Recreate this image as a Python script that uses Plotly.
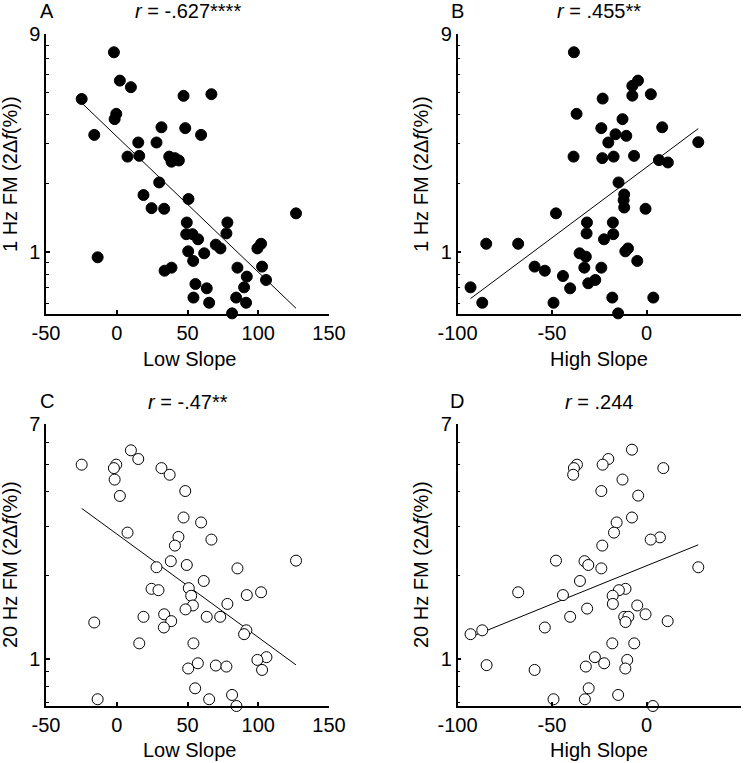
import numpy as np
import plotly.graph_objects as go

# ---------------- data ----------------
# Panel A: Low slope vs 1 Hz FM
a_x = [36.8, -2.0, 2.2, 10.0, -24.8, 47.2, 66.9, -0.35, -1.5, 31.6, 48.4, -15.9, 59.6, 15.2, 28.1,
       7.6, 15.9, 37.1, 38.7, 41.1, 43.9, 30.0, 18.9, 50.7, 24.6, 33.5, 126.7, 49.5, 78.2, 77.5,
       49.1, 53.5, 57.5, 70.0, 73.3, 102.0, 99.4, 50.5, 61.8, -13.5, 54.0, 33.8, 38.7, 85.3, 102.7,
       91.9, 105.5, 55.6, 63.6, 90.0, 54.2, 84.4, 65.3, 91.4, 81.5]
a_y = [9.17, 7.49, 5.63, 5.27, 4.68, 4.83, 4.91, 4.03, 3.82, 3.52, 3.49, 3.26, 3.26, 3.02, 3.02,
       2.62, 2.64, 2.62, 2.49, 2.58, 2.52, 2.02, 1.78, 1.71, 1.56, 1.55, 1.48, 1.35, 1.35, 1.21,
       1.20, 1.20, 1.14, 1.08, 1.04, 1.09, 1.04, 1.01, 0.99, 0.951, 0.917, 0.831, 0.857, 0.857, 0.866,
       0.783, 0.757, 0.727, 0.696, 0.703, 0.634, 0.634, 0.602, 0.602, 0.541]

# Panel B: High slope vs 1 Hz FM
b_x = [2.5, -38.4, -4.5, -7.5, -7.5, -23.2, 2.3, -37.0, -12.7, -23.9, 8.3, -16.4, -10.7, -20.2, 27.4,
       -38.6, -23.4, -17.4, -6.6, 6.6, 11.3, -14.8, -11.8, -12.1, -11.8, -0.5, -47.9, -31.5, -17.8,
       -31.7, -17.6, -22.5, -84.8, -67.9, -9.8, -11.2, -35.4, -32.1, -4.9, -59.2, -53.8, -32.9, -23.9,
       -44.2, -27.1, -30.8, -40.4, -93.1, -86.9, -49.2, -18.1, 3.6, -15.0]
b_y = [9.17, 7.49, 5.63, 5.34, 4.84, 4.70, 4.91, 4.03, 3.82, 3.49, 3.52, 3.28, 3.23, 3.02, 3.03,
       2.62, 2.58, 2.62, 2.64, 2.53, 2.47, 2.02, 1.79, 1.69, 1.57, 1.55, 1.48, 1.35, 1.35,
       1.21, 1.20, 1.14, 1.09, 1.09, 1.04, 1.01, 0.99, 0.957, 0.917, 0.866, 0.831, 0.857, 0.857,
       0.788, 0.757, 0.732, 0.696, 0.703, 0.602, 0.602, 0.634, 0.634, 0.541]

# Panel C: Low slope vs 20 Hz FM
c_x = [36.8, 10.0, 15.2, -24.8, -0.35, -2.0, 31.6, 37.4, -1.5, 48.4, 2.2, 47.2, 59.6, 7.6, 43.6,
       66.9, 41.1, 38.2, 126.7, 49.5, 28.1, 85.3, 61.5, 24.6, 29.5, 50.9, 102.0, 52.6, 91.9, 78.2,
       53.8, 48.6, 18.9, 63.6, 73.1, 33.5, 38.5, -15.9, 33.3, 91.6, 90.0, 15.9, 54.2, 105.8, 99.4,
       57.3, 70.0, 77.5, 50.5, 102.7, 55.4, 81.5, -13.5, 65.3, 84.6]
c_y = [7.06, 5.63, 5.24, 5.00, 5.00, 4.86, 4.86, 4.60, 4.42, 4.02, 3.86, 3.23, 3.10, 2.85, 2.75,
       2.69, 2.56, 2.25, 2.26, 2.18, 2.14, 2.12, 1.91, 1.79, 1.77, 1.80, 1.74, 1.69, 1.70, 1.58,
       1.56, 1.51, 1.42, 1.42, 1.42, 1.45, 1.37, 1.355, 1.30, 1.27, 1.23, 1.14, 1.14, 1.017, 0.994,
       0.967, 0.949, 0.941, 0.926, 0.915, 0.786, 0.744, 0.718, 0.718, 0.679]

# Panel D: High slope vs 20 Hz FM
d_x = [3.4, -7.7, -20.2, -36.8, -23.2, -38.4, 8.9, -38.8, -12.7, -23.9, -4.4, -7.7, -15.8, -17.2, 7.1,
       2.2, -23.4, -47.9, -32.8, -30.8, 27.4, -23.9, -35.2, -67.9, -11.1, -14.6, -17.9, -44.2, -4.9,
       -17.8, -31.4, -0.5, -40.4, -11.8, -9.6, -11.1, 11.2, -53.8, -93.1, -86.9, -18.1, -6.5, -27.3,
       -10.2, -22.4, -84.6, -32.1, -11.2, -59.2, -30.6, -15.0, -49.2, -32.6, 3.4]
d_y = [7.06, 5.66, 5.24, 5.00, 5.00, 4.86, 4.86, 4.60, 4.42, 4.02, 3.87, 3.23, 3.10, 2.85, 2.74,
       2.69, 2.56, 2.26, 2.25, 2.18, 2.14, 2.12, 1.91, 1.74, 1.79, 1.77, 1.69, 1.70, 1.56,
       1.58, 1.52, 1.45, 1.42, 1.42, 1.42, 1.36, 1.37, 1.30, 1.23, 1.27, 1.14, 1.14, 1.017,
       0.994, 0.967, 0.952, 0.941, 0.926, 0.915, 0.786, 0.744, 0.718, 0.718, 0.679]

panel_letters = ["A", "B", "C", "D"]
panel_titles = ["<i>r</i> = -.627****", "<i>r</i> = .455**", "<i>r</i> = -.47**", "<i>r</i> = .244"]
x_titles = ["Low Slope", "High Slope", "Low Slope", "High Slope"]
y_titles = ["1 Hz FM (2Δ<i>f</i>(%))", "1 Hz FM (2Δ<i>f</i>(%))",
            "20 Hz FM (2Δ<i>f</i>(%))", "20 Hz FM (2Δ<i>f</i>(%))"]
low_ticks = [-50, 0, 50, 100, 150]
high_ticks = [-100, -50, 0, 50]
top_yticks = [1, 9]
bot_yticks = [1, 7]
top_minor = [0.6, 0.7, 0.8, 0.9, 2, 3, 4, 5, 6, 7, 8]
bot_minor = [0.7, 0.8, 0.9, 2, 3, 4, 5, 6]

W, H = 751, 763
FONT = "Arial, Liberation Sans, sans-serif"
FS = 20

def px(p):
    return p / W

def py(p):
    return 1 - p / H

fig = go.Figure()

panels = [
    (a_x, a_y, "x", "y", True),
    (b_x, b_y, "x2", "y2", True),
    (c_x, c_y, "x3", "y3", False),
    (d_x, d_y, "x4", "y4", False),
]

for xs, ys, xa, ya, filled in panels:
    xs_arr = np.array(xs)
    ly = np.log10(np.array(ys))
    k, b0 = np.polyfit(xs_arr, ly, 1)
    lx = np.array([xs_arr.min(), xs_arr.max()])
    fig.add_trace(go.Scatter(x=lx, y=10 ** (k * lx + b0), mode="lines",
                             line=dict(color="black", width=1), xaxis=xa, yaxis=ya,
                             showlegend=False, hoverinfo="skip", cliponaxis=False))
    fig.add_trace(go.Scatter(x=xs, y=ys, mode="markers", xaxis=xa, yaxis=ya,
                             marker=dict(size=11, color="black" if filled else "white",
                                         line=dict(color="black", width=1)),
                             showlegend=False, cliponaxis=False))

xdom_left = [px(46), px(329)]
xdom_right = [px(457.5), px(741)]
ydom_top = [py(314), py(34)]
ydom_bot = [py(706), py(424)]

def xaxis(dom, rng, ticks, anchor):
    return dict(domain=dom, range=rng, tickvals=ticks, ticktext=[str(t) for t in ticks],
                showline=True, linecolor="black", linewidth=1.5, ticks="inside", ticklen=4,
                tickwidth=1.5, tickcolor="black", showgrid=False, zeroline=False,
                anchor=anchor, tickfont=dict(family=FONT, size=FS, color="black"),
                ticklabelstandoff=0, automargin=False)

def yaxis(dom, rng, ticks, minor, anchor):
    return dict(domain=dom, type="log", range=rng, tickvals=ticks, ticktext=[str(t) for t in ticks],
                showline=True, linecolor="black", linewidth=1.5, ticks="inside", ticklen=4,
                tickwidth=1.5, tickcolor="black", showgrid=False, zeroline=False,
                anchor=anchor, tickfont=dict(family=FONT, size=FS, color="black"),
                minor=dict(tickvals=minor, ticks="inside", ticklen=3, tickwidth=1.2,
                           tickcolor="black", showgrid=False),
                ticklabelstandoff=0, automargin=False)

top_range = [np.log10(0.5375), np.log10(9)]
bot_range = [np.log10(0.679), np.log10(7)]

fig.update_layout(
    width=W, height=H, margin=dict(l=0, r=0, t=0, b=0, autoexpand=False),
    paper_bgcolor="white", plot_bgcolor="white",
    font=dict(family=FONT, size=FS, color="black"),
    xaxis=xaxis(xdom_left, [-50, 150], low_ticks, "y"),
    yaxis=yaxis(ydom_top, top_range, top_yticks, top_minor, "x"),
    xaxis2=xaxis(xdom_right, [-100, 50], high_ticks, "y2"),
    yaxis2=yaxis(ydom_top, top_range, top_yticks, top_minor, "x2"),
    xaxis3=xaxis(xdom_left, [-50, 150], low_ticks, "y3"),
    yaxis3=yaxis(ydom_bot, bot_range, bot_yticks, bot_minor, "x3"),
    xaxis4=xaxis(xdom_right, [-100, 50], high_ticks, "y4"),
    yaxis4=yaxis(ydom_bot, bot_range, bot_yticks, bot_minor, "x4"),
)

ann = []
letter_pos = [(47, 11), (458, 11), (47, 401), (457, 401)]
title_pos = [(187.5, 11), (599, 11), (187.5, 402), (599, 402)]
xt_pos = [(189, 359), (599, 359), (189, 750), (599, 750)]
yt_pos = [(10, 174), (421, 174), (10, 565), (421, 565)]
for i in range(4):
    lx_, ly_ = letter_pos[i]
    ann.append(dict(x=px(lx_), y=py(ly_), xref="paper", yref="paper", text=panel_letters[i],
                    showarrow=False, xanchor="center", yanchor="middle", font=dict(size=FS)))
    tx, ty = title_pos[i]
    ann.append(dict(x=px(tx), y=py(ty), xref="paper", yref="paper", text=panel_titles[i],
                    showarrow=False, xanchor="center", yanchor="middle", font=dict(size=FS)))
    ax_, ay_ = xt_pos[i]
    ann.append(dict(x=px(ax_), y=py(ay_), xref="paper", yref="paper", text=x_titles[i],
                    showarrow=False, xanchor="center", yanchor="middle", font=dict(size=FS)))
    yx, yy = yt_pos[i]
    ann.append(dict(x=px(yx), y=py(yy), xref="paper", yref="paper", text=y_titles[i],
                    showarrow=False, xanchor="center", yanchor="middle", textangle=-90,
                    font=dict(size=FS)))
fig.update_layout(annotations=ann)

# remove the default page margin so the figure starts at the window's corner
fig.write_html("out.html", config={"displayModeBar": False},
               post_script="document.body.style.margin='0px';document.body.style.overflow='hidden';")
